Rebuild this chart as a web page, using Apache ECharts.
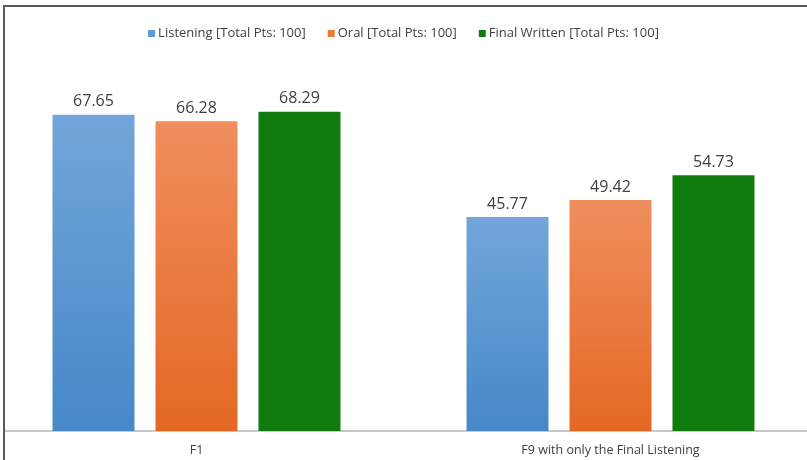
<!DOCTYPE html>
<html>
<head>
<meta charset="utf-8">
<script src="https://cdn.jsdelivr.net/npm/echarts@6/dist/echarts.min.js"></script>
<style>html,body{margin:0;padding:0;background:#fff}#c{width:807px;height:460px}</style>
</head>
<body>
<div id="c"></div>
<script>
const categories = ['F1', 'F9 with only the Final Listening'];
const seriesNames = ['Listening [Total Pts: 100]', 'Oral [Total Pts: 100]', 'Final Written [Total Pts: 100]'];
const listening = [67.65, 45.77];
const oral = [66.28, 49.42];
const finalWritten = [68.29, 54.73];

const grad = (top, bottom) => new echarts.graphic.LinearGradient(0, 0, 0, 1, [
  { offset: 0, color: top }, { offset: 1, color: bottom }
]);
const colors = [grad('#72a6da', '#4688c8'), grad('#f08e5e', '#e46824'), '#107c10'];
const legendColors = ['#5b9bd5', '#ed7d31', '#107c10'];
const values = [listening, oral, finalWritten];

const chart = echarts.init(document.getElementById('c'), null, { renderer: 'canvas' });
chart.setOption({
  animation: false,
  backgroundColor: '#fff',
  legend: {
    top: 22,
    left: 'center',
    itemWidth: 7,
    itemHeight: 7,
    itemGap: 22,
    icon: 'rect',
    textStyle: { fontFamily: 'Open Sans', fontSize: 13, color: '#404040', padding: [0, 0, 0, -2] },
    data: seriesNames.map((n, i) => ({ name: n, itemStyle: { color: legendColors[i] } }))
  },
  grid: { left: -10.5, width: 828, top: 57, bottom: 29, containLabel: false, outerBoundsMode: 'none' },
  xAxis: {
    type: 'category',
    data: categories,
    axisLine: { show: true, lineStyle: { color: '#c8c8c8', width: 2 } },
    axisTick: { show: false },
    axisLabel: { fontFamily: 'Open Sans', fontSize: 12.5, color: '#404040', margin: 13 }
  },
  yAxis: {
    type: 'value', min: 0, max: 80, interval: 10,
    show: false, splitLine: { show: false }
  },
  series: seriesNames.map((n, i) => ({
    name: n,
    type: 'bar',
    data: values[i],
    barWidth: 82,
    barGap: '25.6%',
    itemStyle: { color: colors[i] },
    label: {
      show: true, position: 'top', distance: 5,
      fontFamily: 'Open Sans', fontSize: 16, color: '#404040',
      formatter: p => p.value.toFixed(2)
    }
  })),
  graphic: [
    { type: 'rect', z: 100, shape: { x: 0, y: 0, width: 4, height: 460 }, style: { fill: '#fff' } },
    { type: 'line', z: 101, shape: { x1: 4, y1: 6, x2: 807, y2: 6 }, style: { stroke: '#595959', lineWidth: 2 } },
    { type: 'line', z: 101, shape: { x1: 4, y1: 5, x2: 4, y2: 460 }, style: { stroke: '#595959', lineWidth: 2 } }
  ]
});
</script>
</body>
</html>
